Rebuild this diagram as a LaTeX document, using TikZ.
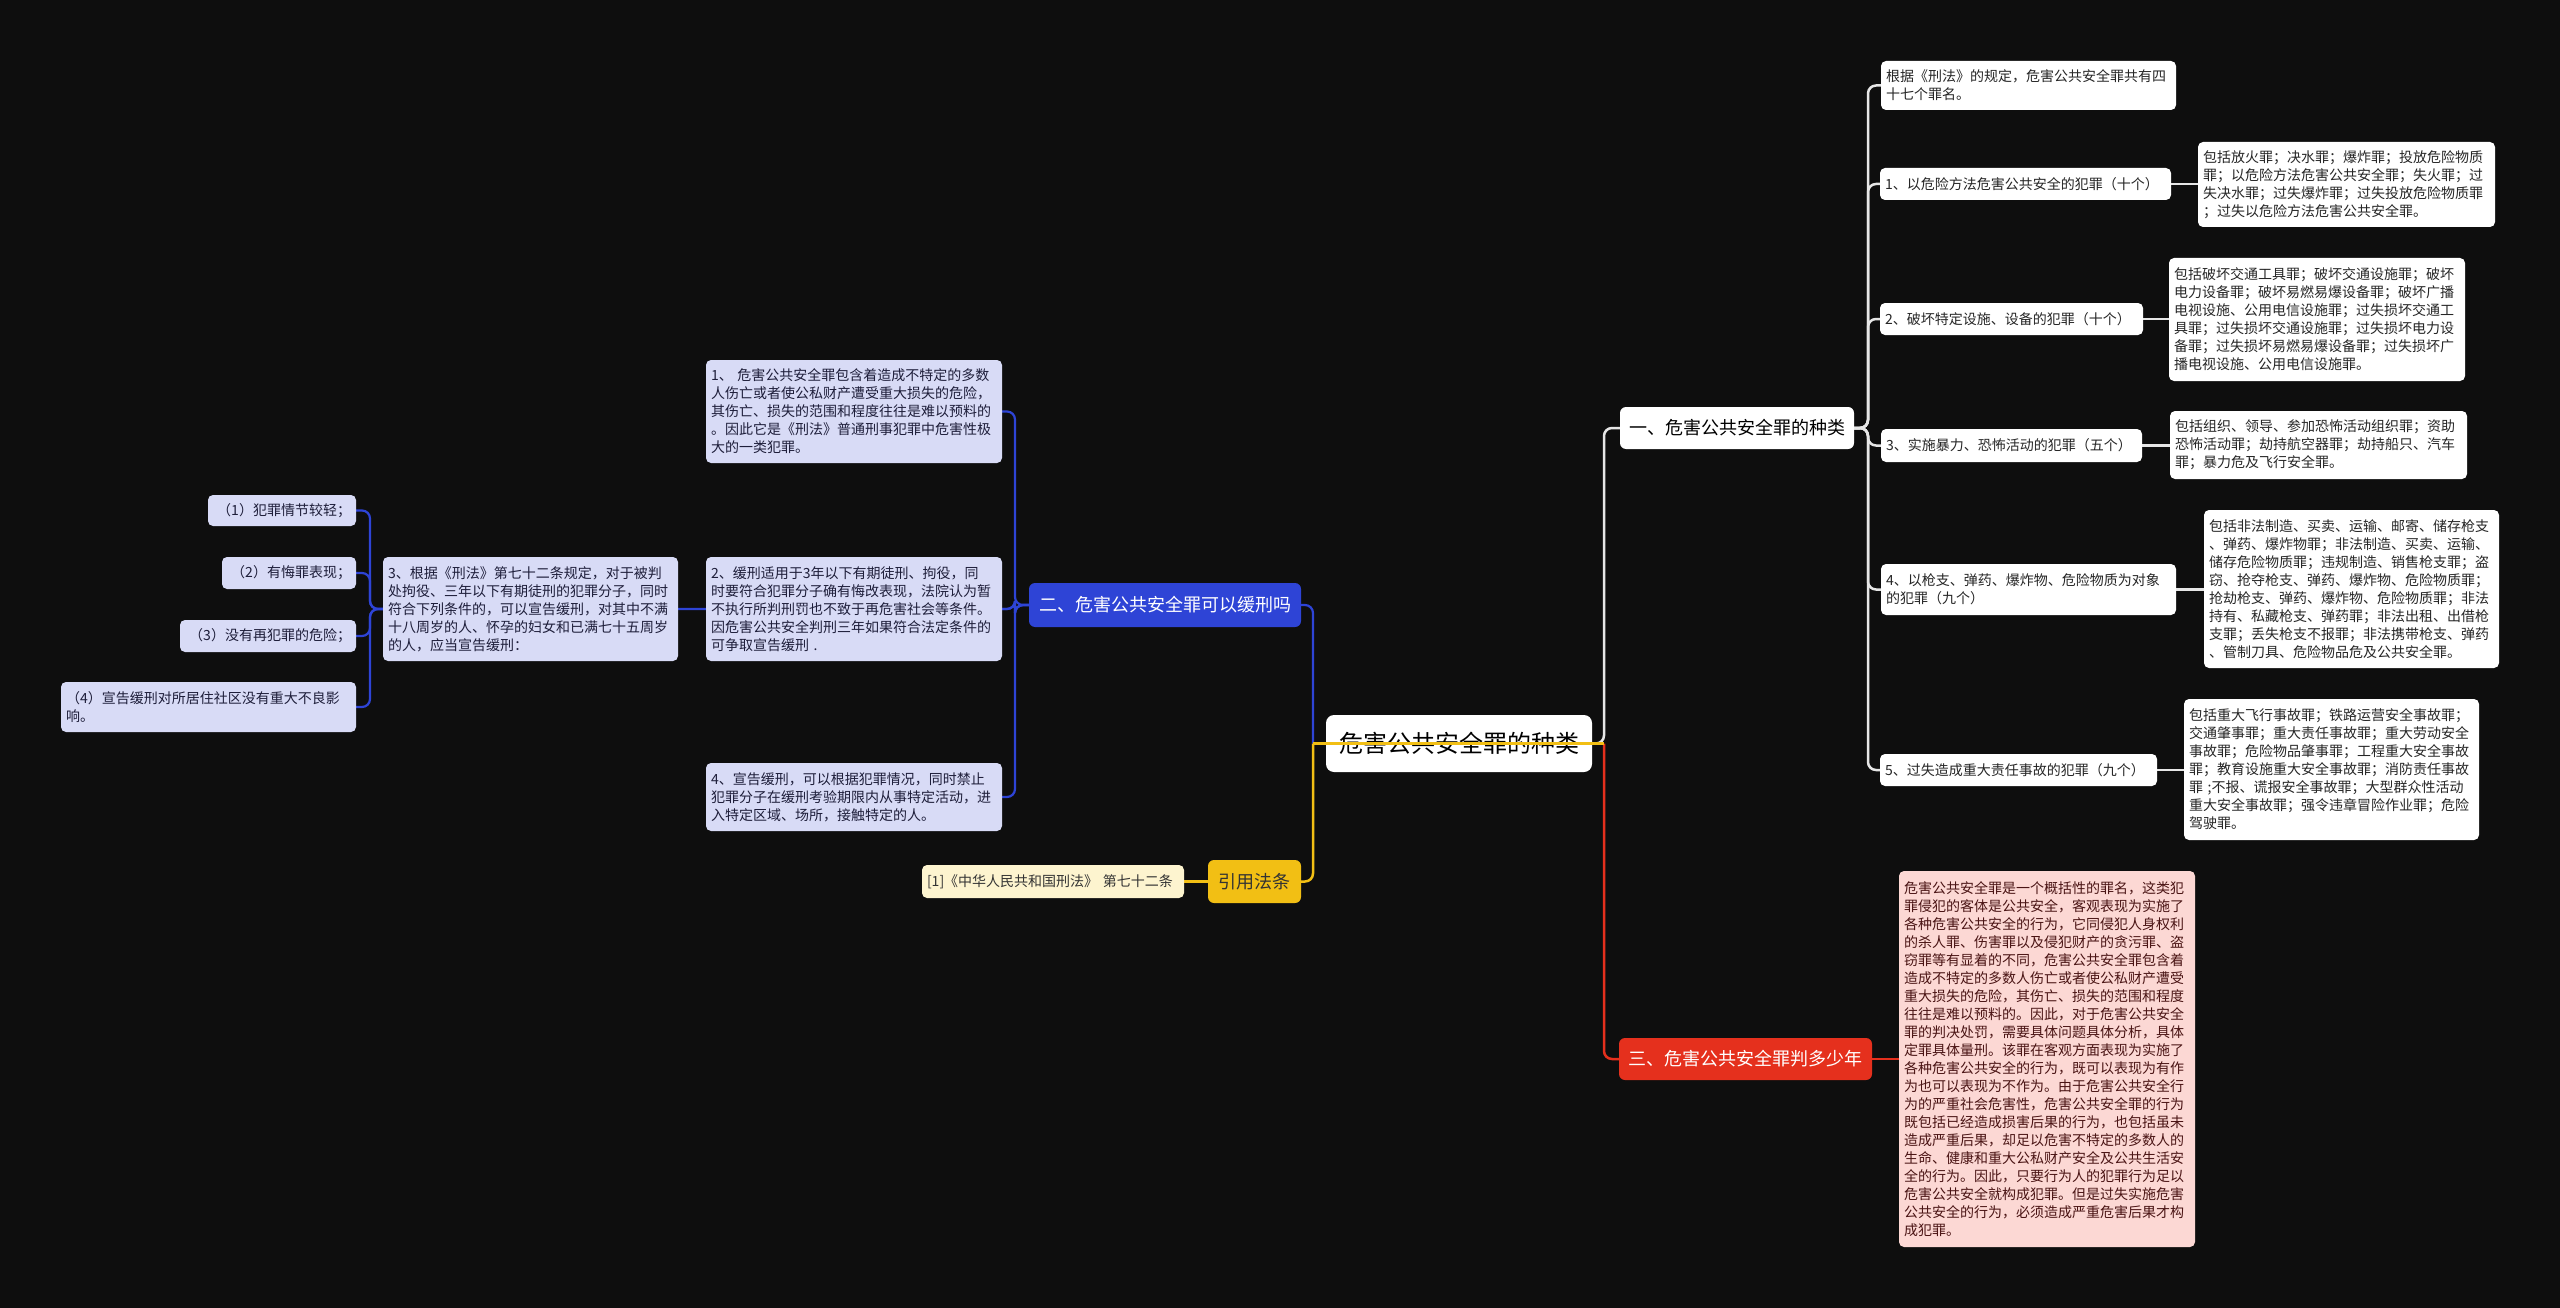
\documentclass[tikz,border=0pt]{standalone}
\usepackage{fontspec}
\newfontfamily\cjk{Noto Sans CJK SC}
\usetikzlibrary{backgrounds}
\definecolor{bgc}{HTML}{0E0E0E}
\definecolor{lav}{HTML}{D8DBF6}
\definecolor{bltext}{HTML}{1E1E3A}
\definecolor{bluec}{HTML}{2E44D6}
\definecolor{yelc}{HTML}{F2BF14}
\definecolor{ylight}{HTML}{FDF4CF}
\definecolor{redc}{HTML}{E5301D}
\definecolor{pinkc}{HTML}{FCD8D4}
\definecolor{redtext}{HTML}{4A1414}
\definecolor{wlinec}{HTML}{E6E6E6}
\pgfdeclarelayer{bglayer}
\pgfdeclarelayer{edges}
\pgfdeclarelayer{top}
\pgfsetlayers{bglayer,edges,main,top}
\begin{document}
\begin{tikzpicture}[x=1pt,y=-1pt,
  small/.style={rounded corners=5pt, align=left, inner xsep=5pt, inner ysep=0pt,
    font=\cjk\fontsize{14}{18}\selectfont},
  wleaf/.style={small, fill=white, text=black!85},
  bleaf/.style={small, fill=lav, text=bltext},
  pleaf/.style={small, fill=pinkc, text=redtext},
  yleaf/.style={small, fill=ylight, text=black!80},
  lvone/.style={rounded corners=6pt, align=center, inner sep=0pt,
    font=\cjk\fontsize{18}{22}\selectfont},
  rootbox/.style={rounded corners=8pt, align=center, inner sep=0pt, fill=white, text=black,
    font=\cjk\fontsize{24}{28}\selectfont},
  wline/.style={draw=wlinec, line width=2.5pt, rounded corners=8pt},
  bline/.style={draw=bluec, line width=2.2pt, rounded corners=8pt},
  yline/.style={draw=yelc, line width=2.5pt, rounded corners=8pt},
  rline/.style={draw=redc, line width=2.5pt, rounded corners=8pt}]
\begin{pgfonlayer}{bglayer}
\fill[bgc] (0,0) rectangle (2560,1308);
\end{pgfonlayer}
\useasboundingbox (0,0) rectangle (2560,1308);

% root and level one
\node[rootbox, minimum width=266pt, minimum height=57pt] (root) at (1459,743.5) {危害公共安全罪的种类};
\node[lvone, fill=white, text=black, minimum width=234pt, minimum height=42pt] (n1) at (1737,428) {一、危害公共安全罪的种类};
\node[lvone, fill=bluec, text=white, minimum width=272pt, minimum height=44pt] (n2) at (1165,605) {二、危害公共安全罪可以缓刑吗};
\node[lvone, fill=redc, text=white, minimum width=253pt, minimum height=42pt] (n3) at (1745.5,1059) {三、危害公共安全罪判多少年};
\node[lvone, fill=yelc, text=black!80, minimum width=93pt, minimum height=43pt] (yin) at (1254.5,881.5) {引用法条};
\node[yleaf, text width=252pt, minimum height=33pt] (y1) at (1053,881.5) {[1]《中华人民共和国刑法》 第七十二条};

% right branch
\node[wleaf, text width=285pt, minimum height=49pt] (r0) at (2028.5,85.5) {根据《刑法》的规定，危害公共安全罪共有四\\十七个罪名。};
\node[wleaf, text width=281pt, minimum height=32pt] (r1) at (2025.5,184) {1、以危险方法危害公共安全的犯罪（十个）};
\node[wleaf, text width=287pt, minimum height=85pt] (l1) at (2346.5,184.5) {包括放火罪；决水罪；爆炸罪；投放危险物质\\罪；以危险方法危害公共安全罪；失火罪；过\\失决水罪；过失爆炸罪；过失投放危险物质罪\\；过失以危险方法危害公共安全罪。};
\node[wleaf, text width=253pt, minimum height=32pt] (r2) at (2011.5,319) {2、破坏特定设施、设备的犯罪（十个）};
\node[wleaf, text width=286pt, minimum height=123pt] (l2) at (2317,319.5) {包括破坏交通工具罪；破坏交通设施罪；破坏\\电力设备罪；破坏易燃易爆设备罪；破坏广播\\电视设施、公用电信设施罪；过失损坏交通工\\具罪；过失损坏交通设施罪；过失损坏电力设\\备罪；过失损坏易燃易爆设备罪；过失损坏广\\播电视设施、公用电信设施罪。};
\node[wleaf, text width=251pt, minimum height=33pt] (r3) at (2011.5,445.5) {3、实施暴力、恐怖活动的犯罪（五个）};
\node[wleaf, text width=287pt, minimum height=68pt] (l3) at (2318.5,445) {包括组织、领导、参加恐怖活动组织罪；资助\\恐怖活动罪；劫持航空器罪；劫持船只、汽车\\罪；暴力危及飞行安全罪。};
\node[wleaf, text width=285pt, minimum height=51pt] (r4) at (2028.5,589.5) {4、以枪支、弹药、爆炸物、危险物质为对象\\的犯罪（九个）};
\node[wleaf, text width=285pt, minimum height=158pt] (l4) at (2351.5,589) {包括非法制造、买卖、运输、邮寄、储存枪支\\、弹药、爆炸物罪；非法制造、买卖、运输、\\储存危险物质罪；违规制造、销售枪支罪；盗\\窃、抢夺枪支、弹药、爆炸物、危险物质罪；\\抢劫枪支、弹药、爆炸物、危险物质罪；非法\\持有、私藏枪支、弹药罪；非法出租、出借枪\\支罪；丢失枪支不报罪；非法携带枪支、弹药\\、管制刀具、危险物品危及公共安全罪。};
\node[wleaf, text width=267pt, minimum height=32pt] (r5) at (2018.5,770) {5、过失造成重大责任事故的犯罪（九个）};
\node[wleaf, text width=285pt, minimum height=141pt] (l5) at (2331.5,769.5) {包括重大飞行事故罪；铁路运营安全事故罪；\\交通肇事罪；重大责任事故罪；重大劳动安全\\事故罪；危险物品肇事罪；工程重大安全事故\\罪；教育设施重大安全事故罪；消防责任事故\\罪 ;不报、谎报安全事故罪；大型群众性活动\\重大安全事故罪；强令违章冒险作业罪；危险\\驾驶罪。};

% red leaf
\node[pleaf, text width=286pt, minimum height=376pt] (pl) at (2047,1059) {危害公共安全罪是一个概括性的罪名，这类犯\\罪侵犯的客体是公共安全，客观表现为实施了\\各种危害公共安全的行为，它同侵犯人身权利\\的杀人罪、伤害罪以及侵犯财产的贪污罪、盗\\窃罪等有显着的不同，危害公共安全罪包含着\\造成不特定的多数人伤亡或者使公私财产遭受\\重大损失的危险，其伤亡、损失的范围和程度\\往往是难以预料的。因此，对于危害公共安全\\罪的判决处罚，需要具体问题具体分析，具体\\定罪具体量刑。该罪在客观方面表现为实施了\\各种危害公共安全的行为，既可以表现为有作\\为也可以表现为不作为。由于危害公共安全行\\为的严重社会危害性，危害公共安全罪的行为\\既包括已经造成损害后果的行为，也包括虽未\\造成严重后果，却足以危害不特定的多数人的\\生命、健康和重大公私财产安全及公共生活安\\全的行为。因此，只要行为人的犯罪行为足以\\危害公共安全就构成犯罪。但是过失实施危害\\公共安全的行为，必须造成严重危害后果才构\\成犯罪。};

% blue branch
\node[bleaf, text width=286pt, minimum height=103pt] (b1) at (854,411.5) {1、 危害公共安全罪包含着造成不特定的多数\\人伤亡或者使公私财产遭受重大损失的危险，\\其伤亡、损失的范围和程度往往是难以预料的\\。因此它是《刑法》普通刑事犯罪中危害性极\\大的一类犯罪。};
\node[bleaf, text width=286pt, minimum height=104pt] (b2) at (854,609) {2、缓刑适用于3年以下有期徒刑、拘役，同\\时要符合犯罪分子确有悔改表现，法院认为暂\\不执行所判刑罚也不致于再危害社会等条件。\\因危害公共安全判刑三年如果符合法定条件的\\可争取宣告缓刑 .};
\node[bleaf, text width=285pt, minimum height=104pt] (b3) at (530.5,609) {3、根据《刑法》第七十二条规定，对于被判\\处拘役、三年以下有期徒刑的犯罪分子，同时\\符合下列条件的，可以宣告缓刑，对其中不满\\十八周岁的人、怀孕的妇女和已满七十五周岁\\的人，应当宣告缓刑：};
\node[bleaf, text width=286pt, minimum height=68pt] (b4) at (854,797) {4、宣告缓刑，可以根据犯罪情况，同时禁止\\犯罪分子在缓刑考验期限内从事特定活动，进\\入特定区域、场所，接触特定的人。};
\node[bleaf, text width=138pt, minimum height=31pt, align=right] (c1) at (282,510.5) {（1）犯罪情节较轻；};
\node[bleaf, text width=124pt, minimum height=32pt, align=right] (c2) at (289,573) {（2）有悔罪表现；};
\node[bleaf, text width=166pt, minimum height=32pt, align=right] (c3) at (268,636) {（3）没有再犯罪的危险；};
\node[bleaf, text width=285pt, minimum height=50pt] (c4) at (208.5,707) {（4）宣告缓刑对所居住社区没有重大不良影\\响。};

% connectors
\coordinate (jr) at (1604,743.5);
\coordinate (jl) at (1313,743.5);
\coordinate (tw) at (1868,428);
\coordinate (tb) at (1015,605);
\coordinate (tc) at (370,609);
\begin{pgfonlayer}{edges}
\draw[wline] (root.east) -- (jr) |- (n1.west);
\draw[rline] (jr) |- (n3.west);
\draw[bline] (jl) |- (n2.east);
\draw[yline] (jl) |- (yin.east);
\draw[yline] (yin.west) -- (y1.east);
\foreach \k in {r0,r1,r2,r3,r4,r5} {\draw[wline] (n1.east) -- (tw) |- (\k.west);}
\draw[wline] (r1.east) -- (r1.east -| l1.west);
\draw[wline] (r2.east) -- (r2.east -| l2.west);
\draw[wline] (r3.east) -- (r3.east -| l3.west);
\draw[wline] (r4.east) -- (r4.east -| l4.west);
\draw[wline] (r5.east) -- (r5.east -| l5.west);
\draw[rline] (n3.east) -- (n3.east -| pl.west);
\foreach \k in {b1,b2,b3,b4} {\draw[bline] (n2.west) -- (tb) |- (\k.east);}
\foreach \k in {c1,c2,c3,c4} {\draw[bline] (b3.west) -- (tc) |- (\k.east);}
\end{pgfonlayer}
\begin{pgfonlayer}{top}
\draw[yline, rounded corners=0pt] (jr) -- (jl);
\end{pgfonlayer}
\end{tikzpicture}
\end{document}
